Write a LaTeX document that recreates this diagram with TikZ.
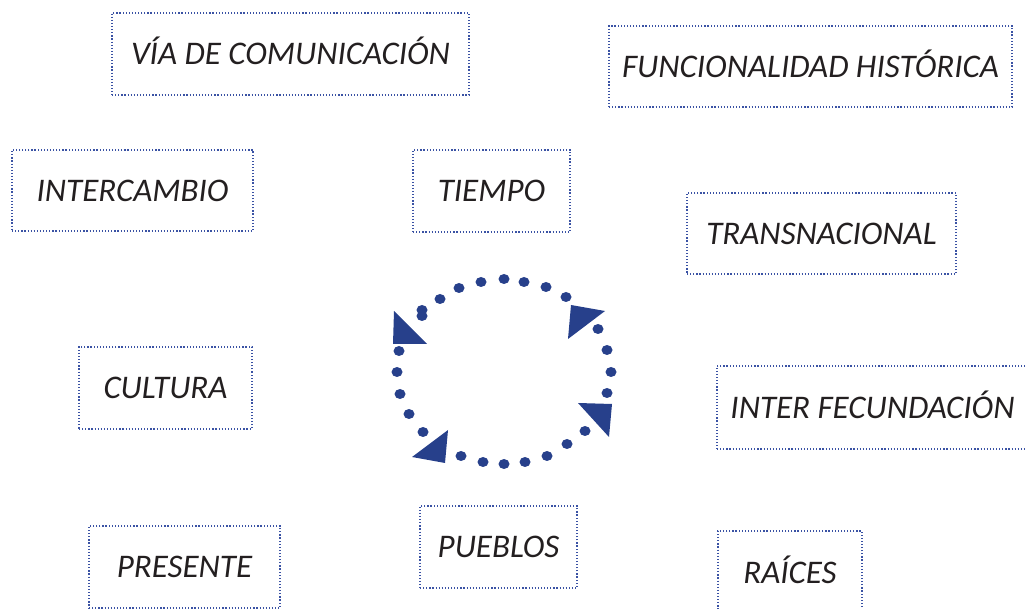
\documentclass[tikz,border=0pt]{standalone}
\usepackage{fontspec}
\setmainfont{Carlito}
\usepackage{tikz}
\usetikzlibrary{positioning}
\definecolor{CycleBlue}{HTML}{27408B}
\definecolor{BoxBlue}{HTML}{3A52A4}
\definecolor{TextGray}{HTML}{231F20}
\tikzset{
    % Concept boxes - dotted frame, italic text
    conceptbox/.style={
        rectangle,
        draw=BoxBlue,
        line width=1.2pt,
        dash pattern=on 1.2pt off 1.9pt,
        inner sep=0pt,
        text=TextGray,
        text height=21.3pt,
        text depth=0pt,
        font=\fontsize{33}{39}\selectfont\itshape
    },
    % Cycle pieces
    cycledot/.style={
        fill=CycleBlue,
        draw=none
    },
    cyclehead/.style={
        fill=CycleBlue,
        draw=none
    }
}
\begin{document}
\begin{tikzpicture}[x=1pt, y=-1pt]
    \useasboundingbox (0,0) rectangle (1026,609);
    \clip (0,0) rectangle (1026,609);

    % Top row
    \node[conceptbox, minimum width=357pt, minimum height=82pt] (via) at (290.5,54) {VÍA DE COMUNICACIÓN};
    \node[conceptbox, minimum width=403pt, minimum height=81pt] (funcional) at (810.5,66.5) {FUNCIONALIDAD HISTÓRICA};

    % Second row
    \node[conceptbox, minimum width=241pt, minimum height=81pt] (intercambio) at (132.5,190.5) {INTERCAMBIO};
    \node[conceptbox, minimum width=157pt, minimum height=82pt] (tiempo) at (491.5,191) {TIEMPO};
    \node[conceptbox, minimum width=269pt, minimum height=81pt] (transnacional) at (821.5,233.5) {TRANSNACIONAL};

    % Middle row
    \node[conceptbox, minimum width=173pt, minimum height=82pt] (cultura) at (165.5,388) {CULTURA};
    \node[conceptbox, minimum width=311pt, minimum height=83pt] (fecundacion) at (872.5,407.5) {INTER FECUNDACIÓN};

    % Bottom row
    \node[conceptbox, minimum width=191pt, minimum height=82pt] (presente) at (184.5,567) {PRESENTE};
    \node[conceptbox, minimum width=157pt, minimum height=82pt] (pueblos) at (498.5,547) {PUEBLOS};
    \node[conceptbox, minimum width=144pt, minimum height=84pt] (raices) at (790,573) {RAÍCES};

    % Dotted cycle
    \foreach \x/\y in {481/282, 504/279, 524/282, 546/287, 566/297,
                       459/288, 440/299, 422/310, 422/316,
                       399/351, 397/372, 400/394, 409/414, 423/432,
                       461/456, 483/462, 504/464, 525/462, 547/456, 567/444, 585/431,
                       607/393, 611/372, 607/350, 598/329}
        \fill[cycledot] (\x,\y) ellipse [x radius=5.5pt, y radius=5pt];

    % Arrow heads
    \fill[cyclehead] (394,311) -- (393,344) -- (427,344) -- cycle;
    \fill[cyclehead] (571,305) -- (605,311) -- (568,339) -- cycle;
    \fill[cyclehead] (578,403) -- (612,404) -- (609,437) -- cycle;
    \fill[cyclehead] (448,430) -- (445,463) -- (412,457) -- cycle;
\end{tikzpicture}
\end{document}
